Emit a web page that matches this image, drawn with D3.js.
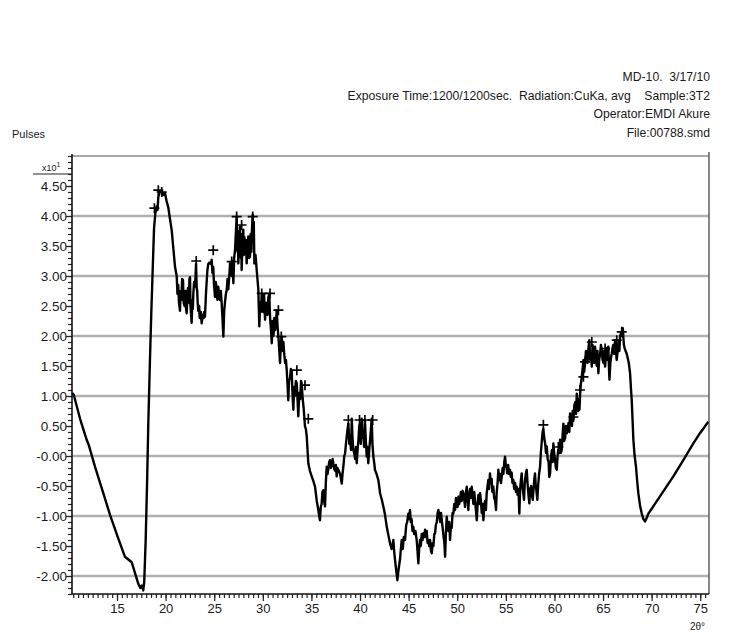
<!DOCTYPE html>
<html>
<head>
<meta charset="utf-8">
<script src="https://cdn.jsdelivr.net/npm/d3@7/dist/d3.min.js"></script>
<style>
  html, body { margin: 0; padding: 0; background: #fff; }
  svg { display: block; }
  text { font-family: "Liberation Sans", Arial, sans-serif; fill: #1a1a1a; }
</style>
</head>
<body>
<svg id="chart" width="729" height="634"></svg>
<script>
// Diffraction scan, [2-theta (deg), pulses (x10^1)], split by angular range
const scanLow = [
  [10.40,1.05],[10.55,1.02],[11.20,0.62],[11.88,0.27],[12.10,0.18],[12.74,-0.18],[13.59,-0.62],[14.28,-0.98],
  [15.10,-1.36],[15.82,-1.68],[16.51,-1.77],[17.19,-2.13],[17.40,-2.20],[17.54,-2.16],[17.70,-2.24],[17.80,-2.10],
  [17.95,-1.40],[18.10,-0.40],[18.22,0.55],[18.39,1.60],[18.53,2.40],[18.67,3.10],[18.81,3.80],[18.95,4.05],
  [19.08,4.16],[19.17,4.10],[19.25,4.32],[19.40,4.40],[19.60,4.42],[19.75,4.35],[19.94,4.38],[20.10,4.25],
  [20.28,4.14],[20.45,3.95],[20.63,3.76],[20.80,3.45],[20.97,3.15],[21.14,3.00]
];
const scanMain = [
  [21.22,2.70],[21.30,2.85],[21.38,2.55],[21.48,2.42],[21.55,2.75],[21.62,2.60],[21.70,2.95],[21.79,2.93],
  [21.86,2.55],[21.95,2.50],[22.05,2.75],[22.10,2.45],[22.17,2.38],[22.25,2.70],[22.30,2.80],[22.40,2.55],
  [22.45,2.95],[22.51,2.98],[22.56,2.50],[22.60,2.40],[22.68,2.22],[22.75,2.60],[22.80,2.45],[22.85,2.70],
  [22.93,2.90],[23.02,2.82],[23.08,3.00],[23.13,3.20],[23.20,2.80],[23.25,2.75],[23.30,2.55],[23.36,2.42],
  [23.45,2.50],[23.50,2.30],[23.55,2.30],[23.62,2.40],[23.71,2.21],[23.80,2.35],[23.90,2.30],[23.97,2.40],
  [24.05,2.32],[24.15,2.70],[24.23,2.92],[24.30,3.10],[24.39,3.20],[24.47,3.22],[24.55,3.22],[24.65,3.20],
  [24.74,3.27],[24.82,3.05],[24.90,3.15],[24.98,2.85],[25.08,2.65],[25.15,2.90],[25.25,2.80],[25.33,2.60],
  [25.42,2.82],[25.50,2.70],[25.60,2.60],[25.68,2.75],[25.77,2.54],[25.85,2.30],[25.94,1.99],[26.02,2.40],
  [26.10,2.55],[26.20,2.70],[26.29,2.77],[26.37,2.95],[26.45,2.78],[26.55,3.00],[26.63,3.21],[26.72,3.05],
  [26.80,3.00],[26.88,3.25],[26.97,2.88],[27.05,3.30],[27.14,3.43],[27.22,3.70],[27.31,3.99],[27.36,3.60],
  [27.40,3.40],[27.44,3.75],[27.48,3.21],[27.56,3.55],[27.65,3.82],[27.70,3.45],[27.75,3.30],[27.78,3.70],
  [27.82,3.10],[27.90,3.50],[27.99,3.77],[28.05,3.35],[28.10,3.65],[28.15,3.40],[28.25,3.60],[28.34,3.21],
  [28.42,3.50],[28.51,3.66],[28.58,3.30],[28.68,3.32],[28.75,3.70],[28.82,3.40],[28.90,3.85],[28.96,4.02],
  [29.02,3.60],[29.07,3.90],[29.13,3.21],[29.25,3.35],[29.37,3.10],[29.45,2.95],[29.54,2.77],[29.58,2.50],
  [29.64,2.16],[29.72,2.55],[29.80,2.40],[29.89,2.71],[29.97,2.50],[30.05,2.40],[30.12,2.70],[30.23,2.27],
  [30.30,2.55],[30.40,2.55],[30.48,2.35],[30.57,2.65],[30.66,2.70],[30.75,2.30],[30.84,2.10],[30.92,1.88],
  [31.00,2.25],[31.10,2.00],[31.18,2.30],[31.26,2.10],[31.35,2.20],[31.43,2.43],[31.52,2.15],[31.60,2.00],
  [31.68,1.80],[31.77,1.55],[31.85,1.85],[31.94,1.99],[32.05,1.75],[32.12,1.90],[32.20,1.70],[32.30,1.55],
  [32.38,1.60],[32.46,1.43],[32.54,1.20],[32.62,0.93],[32.70,1.25],[32.80,1.30],[32.88,1.45],[32.97,1.43],
  [33.05,1.05],[33.14,0.77],[33.22,1.15],[33.30,1.00],[33.40,1.25],[33.49,1.21],[33.57,0.95],[33.65,0.66],
  [33.75,1.05],[33.85,0.95],[33.93,1.25],[34.00,1.21],[34.10,0.95],[34.20,0.80],[34.27,0.65],[34.34,0.49],
  [34.43,0.45],[34.52,0.32],[34.60,0.10],[34.68,-0.12]
];
const scanMid = [
  [34.85,-0.25],[35.03,-0.34],[35.20,-0.42],[35.37,-0.51],[35.55,-0.75],[35.71,-0.90],[35.80,-1.00],[35.88,-1.07],
  [35.96,-0.85],[36.05,-0.80],[36.13,-0.60],[36.22,-0.57],[36.30,-0.75],[36.40,-0.84],[36.48,-0.45],[36.57,-0.18],
  [36.66,-0.30],[36.75,-0.20],[36.83,-0.10],[36.91,-0.07],[37.00,-0.20],[37.10,-0.15],[37.18,-0.05],[37.25,-0.12],
  [37.35,-0.22],[37.45,-0.25],[37.52,-0.15],[37.60,-0.34],[37.68,-0.20],[37.77,-0.23],[37.95,-0.30],[38.12,-0.46],
  [38.20,-0.30],[38.30,-0.15],[38.38,0.00],[38.46,0.04],[38.55,0.20],[38.63,0.32],[38.72,0.45],[38.80,0.54],
  [38.90,0.20],[39.00,0.30],[39.07,0.10],[39.15,0.62],[39.23,0.30],[39.31,0.10],[39.40,0.05],[39.50,-0.05],
  [39.58,0.15],[39.66,-0.12],[39.75,0.10],[39.85,0.30],[39.92,0.50],[40.00,0.54],[40.08,0.20],[40.17,0.62],
  [40.25,0.30],[40.34,0.40],[40.42,0.15],[40.50,0.60],[40.60,0.25],[40.69,-0.01],[40.77,0.15],[40.85,-0.12],
  [40.95,0.10],[41.05,0.30],[41.12,0.45],[41.20,0.62],[41.28,0.20],[41.37,-0.01],[41.45,-0.10],[41.54,-0.23],
  [41.70,-0.30],[41.88,-0.40],[41.97,-0.50],[42.06,-0.62],[42.23,-0.72],[42.40,-0.84],[42.57,-0.98],[42.75,-1.18],
  [42.92,-1.32],[43.09,-1.46],[43.25,-1.55],[43.43,-1.40],[43.52,-1.60],[43.60,-1.73],[43.72,-1.90],[43.84,-2.07],
  [43.92,-1.95],[44.00,-1.85]
];
const scanBroad = [
  [44.11,-1.73],[44.20,-1.55],[44.29,-1.40],[44.40,-1.55],[44.50,-1.35],[44.63,-1.40],[44.75,-1.15],[44.85,-1.10],
  [44.97,-0.96],[45.05,-1.05],[45.14,-0.90],[45.22,-1.10],[45.30,-1.05],[45.40,-1.25],[45.48,-1.18],[45.58,-1.30],
  [45.70,-1.25],[45.83,-1.40],[45.92,-1.60],[46.00,-1.79],[46.08,-1.55],[46.17,-1.40],[46.25,-1.50],[46.35,-1.30],
  [46.43,-1.40],[46.51,-1.29],[46.60,-1.35],[46.69,-1.23],[46.78,-1.35],[46.86,-1.25],[46.95,-1.45],[47.03,-1.40],
  [47.12,-1.50],[47.20,-1.40],[47.30,-1.58],[47.38,-1.62],[47.47,-1.45],[47.55,-1.50],[47.64,-1.30],[47.72,-1.29],
  [47.80,-1.15],[47.90,-1.10],[47.98,-0.95],[48.06,-0.90],[48.15,-1.00],[48.25,-1.10],[48.33,-0.95],[48.41,-1.07],
  [48.50,-1.20],[48.60,-1.35],[48.68,-1.45],[48.75,-1.68],[48.83,-1.30],[48.92,-1.01],[49.00,-1.15],[49.10,-1.25],
  [49.18,-1.10],[49.26,-1.40],[49.35,-1.15],[49.43,-1.20],[49.52,-0.95],[49.60,-0.96],[49.70,-0.80],[49.78,-0.90],
  [49.87,-0.70],[49.95,-0.73],[50.04,-0.85],[50.12,-0.68],[50.20,-0.80],[50.29,-0.73],[50.37,-0.60],[50.46,-0.75],
  [50.55,-0.58],[50.63,-0.62],[50.72,-0.72],[50.80,-0.85],[50.90,-0.60],[50.98,-0.51],[51.06,-0.70],[51.14,-0.90],
  [51.23,-0.65],[51.32,-0.55],[51.40,-0.70],[51.49,-0.51],[51.57,-0.65],[51.66,-0.80],[51.75,-0.60],[51.83,-0.73],
  [51.92,-0.90],[52.01,-1.07],[52.10,-0.80],[52.18,-0.65],[52.27,-0.80],[52.35,-0.62],[52.44,-0.75],[52.52,-0.95],
  [52.60,-0.80],[52.69,-1.07],[52.78,-0.85],[52.86,-0.75],[52.95,-0.90],[53.03,-0.62],[53.12,-0.50],[53.20,-0.40],
  [53.28,-0.55],[53.37,-0.29],[53.45,-0.45],[53.54,-0.38],[53.62,-0.60],[53.71,-0.51],[53.80,-0.70],[53.90,-0.75],
  [53.99,-0.90],[54.06,-0.60],[54.15,-0.45],[54.23,-0.23],[54.32,-0.40],[54.40,-0.30],[54.50,-0.45],[54.58,-0.34],
  [54.67,-0.20],[54.75,-0.30],[54.84,-0.10],[54.92,-0.01],[55.00,-0.15],[55.08,-0.20],[55.15,-0.29],[55.24,-0.15],
  [55.33,-0.30],[55.43,-0.23],[55.52,-0.35],[55.60,-0.28],[55.68,-0.45],[55.77,-0.40],[55.86,-0.55],[55.95,-0.45],
  [56.04,-0.60],[56.12,-0.51],[56.20,-0.65],[56.30,-0.55],[56.39,-0.96],[56.47,-0.55],[56.55,-0.40],[56.63,-0.29],
  [56.70,-0.50],[56.78,-0.60],[56.87,-0.73],[56.95,-0.45],[57.05,-0.30],[57.15,-0.23],[57.23,-0.45],[57.33,-0.65],
  [57.42,-0.79],[57.50,-0.55],[57.60,-0.50],[57.68,-0.65],[57.77,-0.73],[57.85,-0.55],[57.92,-0.40],[58.00,-0.29],
  [58.08,-0.50],[58.16,-0.60],[58.24,-0.73],[58.32,-0.50],[58.42,-0.30],[58.52,-0.18]
];
const scanHigh = [
  [58.60,0.05],[58.70,0.25],[58.78,0.40],[58.86,0.45],[58.95,0.30],[59.05,0.20],[59.13,0.05],[59.21,0.16],
  [59.30,-0.05],[59.40,-0.10],[59.47,-0.35],[59.55,-0.29],[59.65,0.00],[59.75,0.10],[59.82,-0.10],[59.89,0.21],
  [59.97,0.05],[60.05,-0.05],[60.15,-0.20],[60.24,-0.23],[60.32,0.00],[60.40,0.10],[60.50,0.05],[60.58,0.27],
  [60.66,0.05],[60.75,0.10],[60.84,0.35],[60.92,0.54],[61.00,0.25],[61.10,0.30],[61.18,0.50],[61.27,0.38],
  [61.36,0.45],[61.45,0.55],[61.53,0.40],[61.61,0.71],[61.70,0.55],[61.80,0.50],[61.88,0.75],[61.95,0.60],
  [62.05,0.85],[62.15,0.90],[62.22,0.70],[62.30,1.04],[62.38,0.85],[62.45,0.75],[62.50,0.95],[62.57,0.77],
  [62.65,1.05],[62.72,1.20],[62.81,1.32],[62.90,1.45],[62.98,1.60],[63.06,1.40],[63.15,1.55],[63.24,1.75],
  [63.32,1.71],[63.40,1.55],[63.50,1.80],[63.59,1.93],[63.68,1.60],[63.76,1.70],[63.84,1.49],[63.92,1.85],
  [64.00,1.75],[64.09,1.55],[64.18,1.82],[64.27,1.65],[64.35,1.50],[64.43,1.75],[64.52,1.38],[64.60,1.60],
  [64.70,1.70],[64.78,1.85],[64.87,1.77],[64.95,1.60],[65.05,1.55],[65.13,1.75],[65.21,1.49],[65.30,1.70],
  [65.40,1.80],[65.47,1.60],[65.55,1.82],[65.60,1.50],[65.66,1.27],[65.75,1.55],[65.83,1.65],[65.90,1.71],
  [65.98,1.80],[66.05,1.85],[66.15,1.70],[66.24,1.93],[66.32,1.80],[66.40,1.60],[66.48,1.71],[66.55,1.85],
  [66.60,1.90],[66.68,1.75],[66.75,1.99],[66.85,2.05],[66.92,2.00],[67.03,2.13],[67.10,1.95],[67.15,1.85],
  [67.22,1.80],[67.27,1.77],[67.40,1.72],[67.50,1.66],[67.65,1.55],[67.78,1.38],[67.88,1.10],[67.95,0.93],
  [68.05,0.55],[68.12,0.27],[68.25,0.00],[68.39,-0.18],[68.50,-0.40],[68.63,-0.62],[68.80,-0.82],[68.98,-0.96],
  [69.15,-1.05],[69.32,-1.09],[69.50,-1.03],[69.66,-0.96],[70.17,-0.84],[71.20,-0.59],[72.23,-0.34],[73.26,-0.07],
  [74.29,0.21],[74.97,0.38],[75.83,0.57]
];

// Peak search markers, [2-theta, pulses]
const peaks = [
  [18.85,4.13],[19.25,4.43],[19.60,4.40],[23.15,3.25],[24.90,3.43],[26.80,3.24],[27.31,3.99],[27.82,3.85],
  [28.96,3.99],[29.89,2.71],[30.74,2.71],[31.60,2.43],[31.90,1.99],[33.50,1.43],[34.34,1.18],[34.68,0.62],
  [38.80,0.60],[39.95,0.60],[40.50,0.60],[41.30,0.60],[58.86,0.52],[60.40,0.15],[61.95,0.65],[62.63,1.10],
  [62.98,1.32],[63.15,1.57],[63.84,1.90],[65.21,1.79],[66.41,1.93],[66.92,2.07]
];

// Axis ticks
const yTickValues = [4.5, 4.0, 3.5, 3.0, 2.5, 2.0, 1.5, 1.0, 0.5, 0.0, -0.5, -1.0, -1.5, -2.0];
const yTickLabels = ["4.50", "4.00", "3.50", "3.00", "2.50", "2.00", "1.50", "1.00", "0.50", "-0.00",
                     "-0.50", "-1.00", "-1.50", "-2.00"];
const gridValues  = [4, 3, 2, 1, 0, -1, -2];
const xTickValues = [15, 20, 25, 30, 35, 40, 45, 50, 55, 60, 65, 70, 75];

// Header lines (right aligned)
const headerLines = [
  "MD-10.  3/17/10",
  "Exposure Time:1200/1200sec.  Radiation:CuKa, avg    Sample:3T2",
  "Operator:EMDI Akure",
  "File:00788.smd"
];

const svg = d3.select("#chart");
const L = 72, R = 709, T = 156, B = 594;

const x = d3.scaleLinear().domain([10.37, 75.9]).range([L, R]);
const y = d3.scaleLinear().domain([-2.3, 5.0]).range([B, T]);

// Gridlines and frame
svg.append("g").selectAll("line").data(gridValues).join("line")
  .attr("x1", L).attr("x2", R)
  .attr("y1", d => y(d)).attr("y2", d => y(d))
  .attr("stroke", "#b0b0b0").attr("stroke-width", 2.4);
svg.append("line").attr("x1", L).attr("x2", R).attr("y1", y(5)).attr("y2", y(5))
  .attr("stroke", "#a8a8a8").attr("stroke-width", 2.2);
svg.append("line").attr("x1", R).attr("x2", R).attr("y1", y(5) - 4).attr("y2", B)
  .attr("stroke", "#555").attr("stroke-width", 1.4);

const labelFont = "'Liberation Sans', Arial, sans-serif";

// Y axis: minor ticks every 0.1, labelled ticks every 0.5
const yMinor = d3.axisLeft(y).tickValues(d3.range(-23, 51).map(v => v / 10)).tickSize(4).tickFormat("");
const yMajor = d3.axisLeft(y).tickValues(yTickValues).tickSize(6)
  .tickFormat((d, i) => yTickLabels[i]);
const gyMinor = svg.append("g").attr("transform", `translate(${L},0)`).call(yMinor);
const gyMajor = svg.append("g").attr("transform", `translate(${L},0)`).call(yMajor);
[gyMinor, gyMajor].forEach(g => {
  g.select(".domain").remove();
  g.selectAll(".tick line").attr("stroke", "#222").attr("stroke-width", 1.2);
});
gyMajor.selectAll(".tick text").attr("x", -5).attr("dy", "0.36em")
  .style("font-size", "13.5px").style("font-family", labelFont).attr("fill", "#222");

// X axis: minor ticks every 0.5, labelled every 5
const xMinor = d3.axisBottom(x).tickValues(d3.range(21, 152).map(v => v / 2)).tickSize(4).tickFormat("");
const xMajor = d3.axisBottom(x).tickValues(xTickValues).tickSize(7).tickFormat(d3.format("d"));
const gxMinor = svg.append("g").attr("transform", `translate(0,${B})`).call(xMinor);
const gxMajor = svg.append("g").attr("transform", `translate(0,${B})`).call(xMajor);
[gxMinor, gxMajor].forEach(g => {
  g.select(".domain").remove();
  g.selectAll(".tick line").attr("stroke", "#222").attr("stroke-width", 1.2);
});
gxMajor.selectAll(".tick text").attr("y", 10)
  .style("font-size", "13px").style("font-family", labelFont).attr("fill", "#222");

// Axis lines
svg.append("line").attr("x1", L).attr("x2", L).attr("y1", T - 2).attr("y2", B)
  .attr("stroke", "#111").attr("stroke-width", 1.6);
svg.append("line").attr("x1", L).attr("x2", R).attr("y1", B).attr("y2", B)
  .attr("stroke", "#111").attr("stroke-width", 1.6);

// Scan trace
const pts = [].concat(scanLow, scanMain, scanMid, scanBroad, scanHigh);
svg.append("path").datum(pts)
  .attr("fill", "none").attr("stroke", "#000").attr("stroke-width", 2.4)
  .attr("stroke-linejoin", "round")
  .attr("d", d3.line().x(d => x(d[0])).y(d => y(d[1])));

// Peak markers
svg.append("g").selectAll("path").data(peaks).join("path")
  .attr("d", d => `M${x(d[0]) - 5},${y(d[1])}H${x(d[0]) + 5}M${x(d[0])},${y(d[1]) - 5}V${y(d[1]) + 5}`)
  .attr("stroke", "#000").attr("stroke-width", 1.7);

// Labels
svg.append("text").attr("x", 12).attr("y", 138).text("Pulses")
  .style("font-size", "11px").style("font-family", labelFont);
const sc = svg.append("text").attr("x", 42).attr("y", 171)
  .style("font-size", "9px").style("font-family", labelFont);
sc.append("tspan").text("x10");
sc.append("tspan").attr("dy", -4).style("font-size", "7px").text("1");
svg.append("line").attr("x1", 33).attr("x2", L).attr("y1", 174).attr("y2", 174)
  .attr("stroke", "#222").attr("stroke-width", 1.2);
svg.append("text").attr("x", 705).attr("y", 630).attr("text-anchor", "end").text("2θ°")
  .style("font-size", "10px").style("font-family", labelFont);

svg.append("g").selectAll("text").data(headerLines).join("text")
  .attr("x", 710).attr("y", (d, i) => 81 + i * 18.5)
  .attr("text-anchor", "end")
  .style("white-space", "pre")
  .style("font-size", "12.2px").style("font-family", labelFont)
  .text(d => d);
</script>
</body>
</html>
